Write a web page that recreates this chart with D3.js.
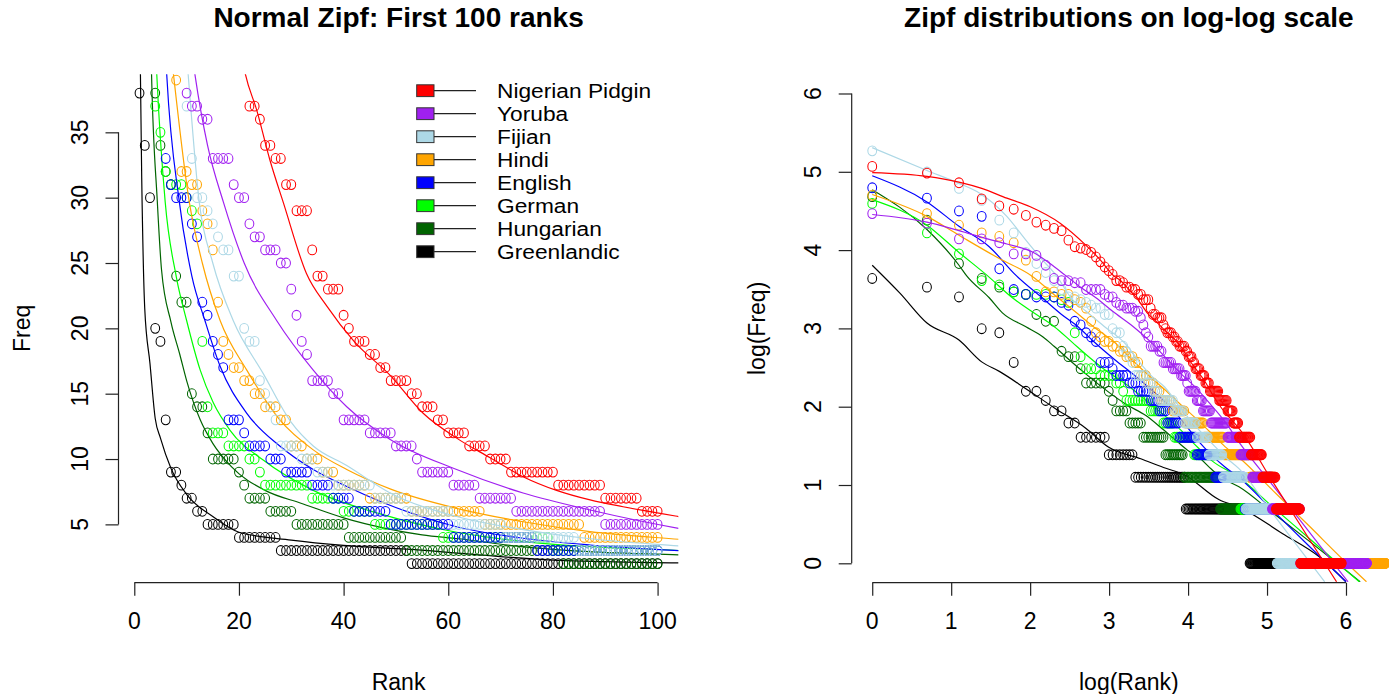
<!DOCTYPE html>
<html><head><meta charset="utf-8">
<script src="https://cdn.jsdelivr.net/npm/d3@7"></script>
<style>
body{margin:0;background:#fff}
svg{display:block}
text{font-family:"Liberation Sans",Arial,Helvetica,sans-serif;fill:#000}
</style>
</head><body>
<svg id="chart" width="1389" height="694"></svg>
<script>
// ---------------- data ----------------
const languages = ["Nigerian Pidgin","Yoruba","Fijian","Hindi","English","German","Hungarian","Greenlandic"];
const colors = ["#FF0000","#A020F0","#ADD8E6","#FFA500","#0000FF","#00FF00","#006400","#000000"];

// word frequency distributions as [frequency, number of consecutive ranks]
const nigerianRuns = [[159,1],[146,1],[129,1],[105,1],[96,1],[92,1],[85,1],[78,1],[75,1],[72,1],[70,1],[62,1],[57,1],[56,1],[55,1],[53,1],[50,1],[47,1],[44,1],[42,1],[40,1],[37,2],[36,1],[34,2],[33,2],[31,2],[29,3],[26,1],[24,2],[23,3],[21,1],[20,1],[19,3],[18,2],[17,2],[16,4],[15,2],[14,3],[13,2],[12,4],[11,4],[10,4],[9,9],[8,9],[7,7],[6,7],[5,17],[4,19],[3,26],[2,60],[1,157]];
const yorubaRuns = [[87,1],[77,1],[63,2],[60,1],[52,2],[51,1],[45,1],[38,1],[37,2],[36,2],[33,4],[31,1],[30,2],[28,1],[27,2],[26,3],[25,2],[23,1],[21,1],[19,1],[18,1],[16,4],[15,2],[13,5],[12,5],[11,4],[10,1],[9,6],[8,5],[7,7],[6,17],[5,16],[4,17],[3,35],[2,68],[1,301]];
const fijianRuns = [[194,1],[148,1],[120,1],[103,1],[80,1],[68,1],[53,1],[46,1],[41,1],[37,1],[33,1],[30,2],[29,1],[28,1],[27,1],[26,2],[24,2],[20,1],[19,2],[16,1],[15,1],[14,1],[13,1],[11,4],[10,3],[9,3],[8,8],[7,6],[6,9],[5,10],[4,14],[3,28],[2,55],[1,153]];
const hindiRuns = [[110,1],[87,1],[75,1],[68,1],[65,1],[60,1],[48,1],[39,1],[32,2],[31,2],[29,1],[28,1],[26,1],[22,1],[19,1],[18,1],[17,2],[16,2],[15,2],[14,3],[13,2],[11,3],[10,3],[9,3],[8,6],[7,8],[6,14],[5,19],[4,33],[3,42],[2,60],[1,445]];
const englishRuns = [[121,1],[106,1],[90,1],[84,1],[43,1],[33,1],[31,1],[30,3],[28,1],[27,1],[22,1],[21,1],[19,1],[18,1],[17,1],[13,3],[12,1],[11,4],[10,3],[9,5],[8,4],[7,4],[6,7],[5,12],[4,16],[3,35],[2,79],[1,230]];
const germanRuns = [[99,1],[68,1],[52,1],[37,1],[35,1],[32,1],[31,3],[30,1],[29,1],[28,1],[19,1],[14,1],[12,3],[11,4],[10,2],[9,1],[8,9],[7,6],[6,6],[5,13],[4,21],[3,26],[2,75],[1,170]];
const hungarianRuns = [[108,1],[80,1],[46,1],[38,1],[34,1],[32,1],[31,1],[24,1],[22,2],[15,1],[14,2],[12,1],[10,5],[9,1],[8,1],[7,4],[6,5],[5,10],[4,11],[3,30],[2,94],[1,125]];
const greenlandicRuns = [[38,1],[34,1],[30,1],[20,1],[19,1],[13,1],[9,2],[8,1],[7,2],[6,2],[5,6],[4,8],[3,25],[2,66],[1,52]];

// fitted Zipf curves as [rank, fitted frequency]
const nigerianFit = [[1,147],[2,140],[3,130],[4,120],[5.5,106],[7.4,95],[10.8,77],[15,58],[18,48],[21.2,39.5],[23.4,36.7],[25.9,32.9],[28.5,29.6],[32.9,24.2],[36.8,21.7],[42,19],[48.9,16.4],[55.2,13.5],[61.6,11.6],[68,10.1],[74.3,8.65],[80.7,7.6],[87.1,6.87],[93.4,6.35],[104,5.6],[160,2.82],[250,1.39],[358,0.79]];
const yorubaFit = [[1,86],[2,78],[3,70],[4.3,63],[5.5,59],[7.7,53],[9.5,46],[11.6,39.4],[14,34],[17,29.7],[21,25],[27.2,20.6],[34.2,16.8],[40.6,14],[48.9,11.5],[61.6,9.2],[74.3,7.4],[87.1,6.1],[104,4.7],[160,2.7],[250,1.52],[414,0.79]];
const fijianFit = [[1,202],[2,151],[3,128],[3.9,113],[5.5,84],[7,62],[8.5,49],[10.3,39.4],[12.4,29.7],[15,25],[18.9,20.6],[24.7,16.5],[30,12.8],[34.2,11],[40.6,9.5],[48.9,7.4],[61.6,5.6],[74.3,4.6],[87.1,3.9],[104,3.35],[160,1.88],[250,1.04],[308,0.79]];
const hindiFit = [[1,111],[2,84],[3,66],[5,49],[7.5,39.4],[10.5,29.7],[13,25],[16.4,20.6],[21.5,16.8],[27.8,13],[34.2,10.7],[40.6,9.2],[49,7.7],[61.6,6.23],[74.3,5.2],[87.1,4.44],[104,3.86],[160,2.53],[250,1.63],[400,1.02],[523,0.79]];
const englishFit = [[1,141],[2,101],[3,74],[4.4,57],[6.2,39.4],[8.6,29.7],[11,24],[13.5,20.6],[16.4,17.1],[21.5,13.5],[27.8,11],[34.2,9.2],[40.6,7.9],[48,6.6],[61.6,4.82],[74.3,3.94],[87.1,3.42],[104,2.99],[160,1.96],[250,1.26],[403,0.79]];
const germanFit = [[1,104],[2,75],[3,53],[4.3,39.4],[5.9,29.7],[8,24],[10,20.6],[12.6,16.8],[15.1,14.3],[18.3,12.2],[24.7,9.9],[34.2,7.6],[47,5.8],[61.6,4.4],[74,3.7],[104,3.0],[160,2.05],[250,1.39],[400,0.92],[478,0.79]];
const hungarianFit = [[1,118],[2,71],[3,45],[3.3,39.4],[4.4,29.7],[5.2,24.5],[7,20.5],[8.7,18],[10,16],[12.6,13],[15,11.2],[18.6,9.4],[25,7.6],[32,6.6],[40,5.5],[48,4.7],[55,4.2],[62,3.9],[74,3.3],[85,2.95],[104,2.66],[160,1.9],[250,1.34],[400,0.92],[483,0.79]];
const greenlandicFit = [[1,45],[1.42,31.5],[2,21.5],[3,17.3],[4,13.1],[5,11.6],[7,9.3],[10,7.3],[15,5.6],[20,4.4],[30,3.8],[40,3.4],[52,3.1],[81,2.25],[104,2.05],[181,1.46],[290,1.08],[403,0.79]];

const allRuns = [nigerianRuns,yorubaRuns,fijianRuns,hindiRuns,englishRuns,germanRuns,hungarianRuns,greenlandicRuns];
const allFits = [nigerianFit,yorubaFit,fijianFit,hindiFit,englishFit,germanFit,hungarianFit,greenlandicFit];

const leftXTicks = [0,20,40,60,80,100];
const leftYTicks = [5,10,15,20,25,30,35];
const rightXTicks = [0,1,2,3,4,5,6];
const rightYTicks = [0,1,2,3,4,5,6];

// ---------------- layout ----------------
const W = 1389, H = 694;
const FONT = 23, TITLE_FONT = 28, LEG_FONT = 19.6;
const svg = d3.select("#chart");
svg.append("rect").attr("width",W).attr("height",H).attr("fill","#fff");

const xL = d3.scaleLinear().domain([-2.96,103.96]).range([118.8,678.3]);
const yL = d3.scaleLinear().domain([0.56,39.44]).range([582.4,74.3]);
const xR = d3.scaleLinear().domain([-0.26,6.76]).range([851.7,1406]);
const yR = d3.scaleLinear().domain([-0.24,6.24]).range([582.1,74.7]);

const defs = svg.append("defs");
function clip(id,xs,ys){
  defs.append("clipPath").attr("id",id).append("rect")
    .attr("x",xs.range()[0]).attr("y",ys.range()[1])
    .attr("width",xs.range()[1]-xs.range()[0]).attr("height",ys.range()[0]-ys.range()[1]);
}
clip("clipL",xL,yL); clip("clipR",xR,yR);

function expand(runs){
  const out=[]; let r=1;
  runs.forEach(([f,c])=>{ for(let i=0;i<c;i++){ out.push({rank:r, freq:f}); r++; } });
  return out;
}

const gL = svg.append("g").attr("clip-path","url(#clipL)");
const gR = svg.append("g").attr("clip-path","url(#clipR)");
const RX = 4.4, RY = 4.9, SW = 1.05;

// draw order: last legend entry first
const order = d3.range(languages.length).reverse();
order.forEach(i=>{
  const pts = expand(allRuns[i]);
  const col = colors[i];
  // left panel: first 100 ranks
  gL.append("g").selectAll("ellipse").data(pts.filter(d=>d.rank<=100)).join("ellipse")
    .attr("cx",d=>xL(d.rank)).attr("cy",d=>yL(d.freq)).attr("rx",RX).attr("ry",RY)
    .attr("fill","none").attr("stroke",col).attr("stroke-width",SW);
  gL.append("path").datum(allFits[i])
    .attr("d",d3.line().x(d=>xL(d[0])).y(d=>yL(d[1])).curve(d3.curveMonotoneX))
    .attr("fill","none").attr("stroke",col).attr("stroke-width",1.2);
  // right panel: log-log
  gR.append("g").selectAll("ellipse").data(pts).join("ellipse")
    .attr("cx",d=>xR(Math.log(d.rank))).attr("cy",d=>yR(Math.log(d.freq))).attr("rx",RX).attr("ry",RY)
    .attr("fill","none").attr("stroke",col).attr("stroke-width",SW);
  gR.append("path").datum(allFits[i])
    .attr("d",d3.line().x(d=>xR(Math.log(d[0]))).y(d=>yR(Math.log(d[1]))).curve(d3.curveMonotoneX))
    .attr("fill","none").attr("stroke",col).attr("stroke-width",1.2);
});

// ---------------- axes ----------------
const TICK = 13, AX = "#222";
function xAxis(scale, ticks, yPos){
  const g = svg.append("g").attr("transform",`translate(0,${yPos})`)
    .call(d3.axisBottom(scale).tickValues(ticks).tickSize(TICK).tickFormat(""));
  g.select(".domain").remove();
  g.selectAll("line").attr("stroke",AX).attr("stroke-width",1.2);
  g.append("line").attr("x1",scale(ticks[0])).attr("x2",scale(ticks[ticks.length-1]))
    .attr("stroke",AX).attr("stroke-width",1.2);
  svg.append("g").selectAll("text").data(ticks).join("text")
    .attr("x",d=>scale(d)).attr("y",yPos+46).attr("text-anchor","middle")
    .attr("font-size",FONT).text(d=>d);
}
function yAxis(scale, ticks, xPos){
  const g = svg.append("g").attr("transform",`translate(${xPos},0)`)
    .call(d3.axisLeft(scale).tickValues(ticks).tickSize(TICK).tickFormat(""));
  g.select(".domain").remove();
  g.selectAll("line").attr("stroke",AX).attr("stroke-width",1.2);
  g.append("line").attr("y1",scale(ticks[0])).attr("y2",scale(ticks[ticks.length-1]))
    .attr("stroke",AX).attr("stroke-width",1.2);
  svg.append("g").selectAll("text").data(ticks).join("text")
    .attr("transform",d=>`translate(${xPos-31},${scale(d)}) rotate(-90)`)
    .attr("text-anchor","middle").attr("font-size",FONT).text(d=>d);
}
const bottomY = yL.range()[0] + 0.3;
xAxis(xL, leftXTicks, bottomY);
yAxis(yL, leftYTicks, xL.range()[0]-0.3);
xAxis(xR, rightXTicks, bottomY);
yAxis(yR, rightYTicks, xR.range()[0]);

// axis titles
const cxL = (xL.range()[0]+xL.range()[1])/2;
const cxR = (xR.range()[0]+xR.range()[1])/2;
const cyP = (yL.range()[0]+yL.range()[1])/2;
svg.append("text").attr("x",cxL).attr("y",690).attr("text-anchor","middle").attr("font-size",FONT).text("Rank");
svg.append("text").attr("x",cxR).attr("y",690).attr("text-anchor","middle").attr("font-size",FONT).text("log(Rank)");
svg.append("text").attr("transform",`translate(30,${cyP}) rotate(-90)`).attr("text-anchor","middle").attr("font-size",FONT).text("Freq");
svg.append("text").attr("transform",`translate(765,${cyP}) rotate(-90)`).attr("text-anchor","middle").attr("font-size",FONT).text("log(Freq)");

// titles
svg.append("text").attr("x",cxL).attr("y",27).attr("text-anchor","middle")
  .attr("font-size",TITLE_FONT).attr("font-weight","bold").text("Normal Zipf: First 100 ranks");
svg.append("text").attr("x",cxR).attr("y",27).attr("text-anchor","middle")
  .attr("font-size",TITLE_FONT).attr("font-weight","bold").text("Zipf distributions on log-log scale");

// ---------------- legend ----------------
const leg = svg.append("g");
const legY0 = 90.7, legStep = 23;
languages.forEach((name,i)=>{
  const y = legY0 + i*legStep;
  leg.append("line").attr("x1",434).attr("x2",476).attr("y1",y).attr("y2",y)
    .attr("stroke","#222").attr("stroke-width",1.2);
  leg.append("rect").attr("x",416.7).attr("y",y-5.9).attr("width",17.3).attr("height",11.8)
    .attr("fill",colors[i]).attr("stroke","#333").attr("stroke-width",1);
  leg.append("text").attr("transform",`translate(497,${y+7.2}) scale(1.16,1)`)
    .attr("font-size",LEG_FONT).text(name);
});
</script>
</body></html>
